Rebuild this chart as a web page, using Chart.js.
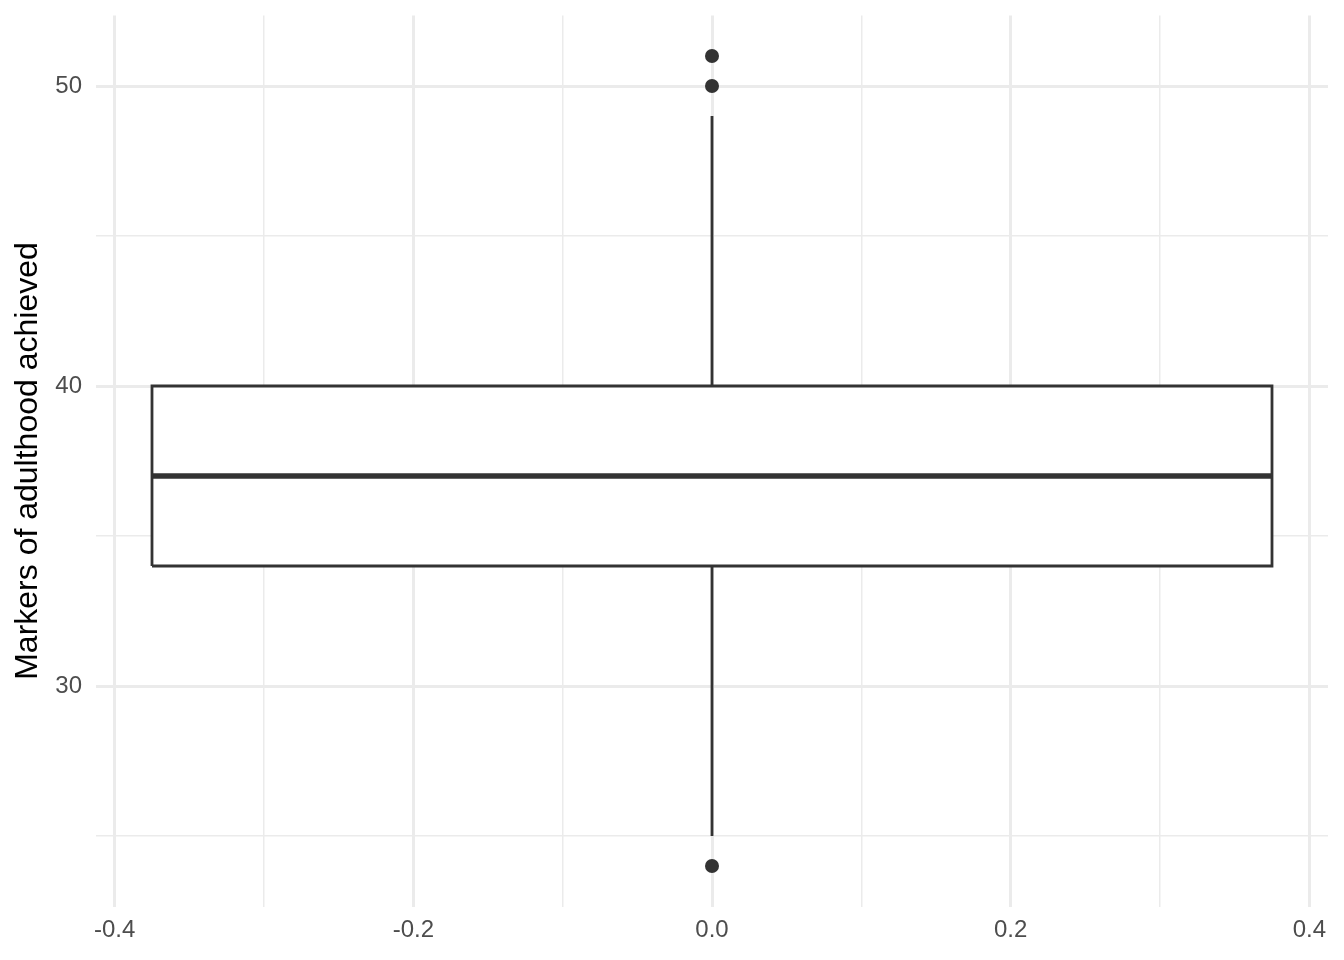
<!DOCTYPE html>
<html>
<head>
<meta charset="utf-8">
<script src="https://cdn.jsdelivr.net/npm/chart.js@4.4.0/dist/chart.umd.min.js"></script>
<style>
  html, body { margin: 0; padding: 0; background: #fff; }
  #wrap { width: 1344px; height: 960px; }
</style>
</head>
<body>
<div id="wrap"><canvas id="grafico" width="1344" height="960"></canvas></div>
<script>
// resumo do boxplot (um grupo so, em x = 0)
var grupos = [0];
var q1 = [34];
var mediana = [37];
var q3 = [40];
var bigodeMin = [25];
var bigodeMax = [49];
var outliersX = [0, 0, 0];
var outliersY = [51, 50, 24];

// ticks dos eixos
var yTicks = [25, 30, 35, 40, 45, 50];
var yTickLabels = ['', '30', '', '40', '', '50'];
var xTicks = [-0.4, -0.3, -0.2, -0.1, 0, 0.1, 0.2, 0.3, 0.4];
var xTickLabels = ['-0.4', '', '-0.2', '', '0.0', '', '0.2', '', '0.4'];

var larguraCaixa = 0.75;
var corLinha = '#333333';
var corGrid = '#EBEBEB';
var fonte = '"Liberation Sans", Arial, Helvetica, sans-serif';

var g = grupos[0];
var meia = larguraCaixa / 2;

var datasets = [
    {
        // mediana (desenhada por cima)
        label: 'mediana',
        data: [{x: g - meia, y: mediana[0]}, {x: g + meia, y: mediana[0]}],
        showLine: true,
        borderColor: corLinha,
        borderWidth: 5.5,
        pointRadius: 0,
        fill: false
    },
    {
        label: 'outliers',
        data: outliersX.map(function (x, i) { return {x: x, y: outliersY[i]}; }),
        showLine: false,
        pointRadius: 7,
        pointBackgroundColor: corLinha,
        pointBorderWidth: 0,
        pointBorderColor: corLinha
    },
    {
        label: 'bigode superior',
        data: [{x: g, y: q3[0]}, {x: g, y: bigodeMax[0]}],
        showLine: true,
        borderColor: corLinha,
        borderWidth: 2.8,
        pointRadius: 0,
        fill: false
    },
    {
        label: 'bigode inferior',
        data: [{x: g, y: q1[0]}, {x: g, y: bigodeMin[0]}],
        showLine: true,
        borderColor: corLinha,
        borderWidth: 2.8,
        pointRadius: 0,
        fill: false
    },
    {
        label: 'caixa',
        data: [
            {x: g - meia, y: q1[0]},
            {x: g + meia, y: q1[0]},
            {x: g + meia, y: q3[0]},
            {x: g - meia, y: q3[0]},
            {x: g - meia, y: q1[0]}
        ],
        showLine: true,
        borderColor: corLinha,
        borderWidth: 2.8,
        backgroundColor: '#ffffff',
        pointRadius: 0,
        fill: 'shape'
    }
];

var grafico = new Chart(document.getElementById('grafico').getContext('2d'), {
    type: 'scatter',
    data: { datasets: datasets },
    options: {
        responsive: false,
        devicePixelRatio: 1,
        animation: false,
        layout: { padding: { top: 15.5, right: 16, left: 0, bottom: 0 } },
        elements: { line: { tension: 0 } },
        plugins: {
            legend: { display: false },
            tooltip: { enabled: false }
        },
        scales: {
            x: {
                type: 'linear',
                min: -0.4125,
                max: 0.4125,
                afterBuildTicks: function (scale) {
                    scale.ticks = xTicks.map(function (v) { return {value: v}; });
                },
                afterFit: function (scale) {
                    scale.height = 53.5;
                    scale.paddingLeft = 0;
                    scale.paddingRight = 0;
                },
                ticks: {
                    autoSkip: false,
                    maxRotation: 0,
                    padding: 9,
                    color: '#4D4D4D',
                    font: { family: fonte, size: 24 },
                    callback: function (v, i) { return xTickLabels[i]; }
                },
                grid: {
                    color: corGrid,
                    drawTicks: false,
                    lineWidth: function (ctx) {
                        return xTickLabels[ctx.index] ? 3 : 1.5;
                    }
                },
                border: { display: false }
            },
            y: {
                type: 'linear',
                min: 22.65,
                max: 52.35,
                afterBuildTicks: function (scale) {
                    scale.ticks = yTicks.map(function (v) { return {value: v}; });
                },
                afterFit: function (scale) {
                    scale.width = 96;
                    scale.paddingTop = 0;
                    scale.paddingBottom = 0;
                },
                ticks: {
                    autoSkip: false,
                    padding: 14,
                    color: '#4D4D4D',
                    font: { family: fonte, size: 24 },
                    callback: function (v, i) { return yTickLabels[i]; }
                },
                grid: {
                    color: corGrid,
                    drawTicks: false,
                    lineWidth: function (ctx) {
                        return yTickLabels[ctx.index] ? 3 : 1.5;
                    }
                },
                border: { display: false },
                title: {
                    display: true,
                    text: 'Markers of adulthood achieved',
                    color: '#000000',
                    font: { family: fonte, size: 32 },
                    padding: { top: 9, bottom: 0 }
                }
            }
        }
    }
});
</script>
</body>
</html>
